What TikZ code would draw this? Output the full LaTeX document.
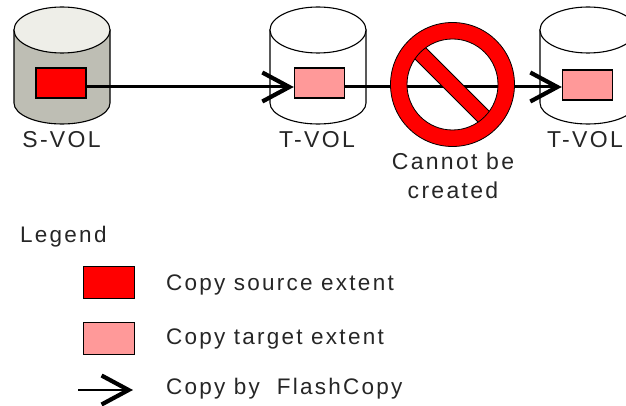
\documentclass[tikz,border=0pt]{standalone}
\usepackage{fontspec}
\setmainfont[LetterSpace=10]{Liberation Sans}
\usetikzlibrary{arrows.meta}
\definecolor{srcred}{RGB}{255,0,0}
\definecolor{tgtpink}{RGB}{255,153,153}
\definecolor{volside}{RGB}{190,190,180}
\definecolor{volcap}{RGB}{238,238,232}
\tikzset{
  volbody/.style={draw=black,line width=1.1pt},
  srcext/.style={draw=black,line width=1.5pt,fill=srcred,minimum width=50pt,minimum height=30pt,inner sep=0pt},
  tgtext/.style={draw=black,line width=1.5pt,fill=tgtpink,minimum width=50pt,minimum height=30pt,inner sep=0pt},
  copytip/.style={-{Straight Barb[length=27pt,width=29pt,line width=4.2pt]}},
  lbl/.style={inner sep=0pt,text=black!85,font=\fontsize{23}{28}\selectfont},
  keylbl/.style={lbl,anchor=west,font=\fontsize{22.5}{28}\selectfont}
}
\begin{document}
\begin{tikzpicture}[x=1pt,y=-1pt]
\clip (0,0) rectangle (626,406);
\fill[white] (0,0) rectangle (626,406);
% volumes
\filldraw[volbody,fill=volside] (14,30)--(14,103) arc[start angle=180,end angle=360,x radius=48pt,y radius=21pt]--(110,30)--cycle;
\filldraw[volbody,fill=volcap] (62,30) circle[x radius=48pt,y radius=23pt];
\filldraw[volbody,fill=white] (270,30)--(270,103) arc[start angle=180,end angle=360,x radius=48pt,y radius=21pt]--(366,30)--cycle;
\filldraw[volbody,fill=white] (318,30) circle[x radius=48pt,y radius=23pt];
\filldraw[volbody,fill=white] (540,30)--(540,103) arc[start angle=180,end angle=360,x radius=48pt,y radius=21pt]--(636,30)--cycle;
\filldraw[volbody,fill=white] (588,30) circle[x radius=48pt,y radius=23pt];
% extents
\node[srcext] (srcbox) at (61,83) {};
\node[tgtext] (tgtboxa) at (319.5,83) {};
\node[tgtext] (tgtboxb) at (587.5,85) {};
\coordinate (copyrow) at (0,87);
\draw[copytip,line width=3pt] (srcbox.east |- copyrow)--(tgtboxa.west |- copyrow);
\draw[copytip,line width=3pt] (tgtboxa.east |- copyrow)--(tgtboxb.west |- copyrow);
% prohibition sign
\filldraw[fill=srcred,draw=black,line width=.8pt] (405,49)--(416,38)--(499,121)--(488,132)--cycle;
\filldraw[fill=srcred,draw=black,line width=.8pt,even odd rule] (452.5,84.5) circle (62pt) (452.5,84.5) circle (45.5pt);
% labels
\node[lbl] (svol) at (61.5,140) {S-VOL};
\node[lbl] (tvola) at (317,140) {T-VOL};
\node[lbl] (tvolb) at (585,140) {T-VOL};
\node[lbl] (nota) at (453,161) {Cannot be};
\node[lbl] (notb) at (453,190) {created};
% legend
\node[keylbl] (legend) at (20,237) {Legend};
\node[srcext,minimum width=51pt,minimum height=32pt] (srckey) at (109,282.5) {};
\node[tgtext,minimum width=51pt,minimum height=32pt] (tgtkey) at (109,338.5) {};
\node[keylbl] (srctxt) at (166,285) {Copy source extent};
\node[keylbl] (tgttxt) at (166,339) {Copy target extent};
\node[keylbl] (arrtxt) at (166,389) {Copy by\ \ FlashCopy};
\coordinate (keyfrom) at (78,390);
\coordinate (keyto) at (133,390);
\draw[copytip,line width=1.6pt] (keyfrom)--(keyto);
\end{tikzpicture}
\end{document}
